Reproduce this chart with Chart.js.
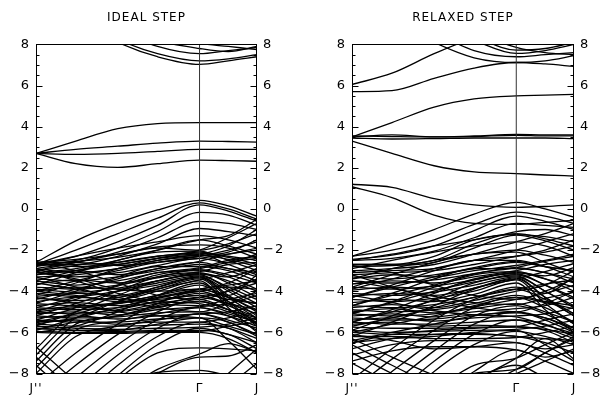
<!DOCTYPE html>
<html><head><meta charset="utf-8">
<script src="https://cdn.jsdelivr.net/npm/chart.js@4.4.1/dist/chart.umd.min.js"></script>
<style>
html,body{margin:0;padding:0;background:#fff;overflow:hidden;width:603px;height:396px}
#c1{position:absolute;left:0;top:0}
#c2{position:absolute;left:300px;top:0}
</style></head><body>
<canvas id="c1" width="300" height="396"></canvas>
<canvas id="c2" width="303" height="396"></canvas>
<script>
// ---- k-path and tick labels ----
const kPoints = [0, 0.18, 0.37, 0.55, 0.74, 0.87, 1];
const kTickValues = [0, 0.74, 1];
const kTickLabels = ["J''", "Γ", "J"];
const gammaK = 0.74;
const gammaLine = [-8, 8];
const energyTicks = [-8, -6, -4, -2, 0, 2, 4, 6, 8];
const energyRange = [-8, 8];
const minorTickStep = 0.5;
const panelTitles = ["IDEAL STEP", "RELAXED STEP"];

// ---- IDEAL STEP bands (eV at kPoints) ----
const idealConduction = [
  [2.7, 3.3, 3.9, 4.15, 4.2, 4.2, 4.2],
  [2.7, 2.9, 3.05, 3.2, 3.3, 3.28, 3.25],
  [2.7, 2.65, 2.7, 2.8, 2.9, 2.9, 2.9],
  [2.7, 2.2, 2.02, 2.2, 2.37, 2.35, 2.32],
  [10, 9.2, 8.1, 7.4, 7.03, 7.2, 7.4],
  [10.3, 9.4, 8.25, 7.55, 7.2, 7.3, 7.5],
  [10.6, 9.8, 8.7, 7.9, 7.55, 7.7, 7.85],
  [11, 10, 9, 8.2, 7.8, 7.65, 7.9],
  [11, 10.2, 9.3, 8.5, 8.05, 7.9, 7.75],
  [11, 10.5, 9.8, 8.8, 8.3, 8.1, 8.0]
];
const idealValenceTop = [
  [-2.6, -1.55, -0.7, -0.05, 0.42, 0.15, -0.35],
  [-2.7, -2.0, -1.2, -0.45, 0.3, 0.0, -0.5],
  [-2.75, -2.3, -1.6, -0.8, 0.2, -0.1, -0.6],
  [-2.8, -2.5, -1.9, -1.1, -0.17, -0.3, -0.8],
  [-2.9, -2.6, -2.1, -1.4, -0.6, -0.7, -1.0],
  [-3.0, -2.75, -2.3, -1.7, -0.95, -1.1, -1.3],
  [-2.65, -2.55, -2.35, -2.0, -1.5, -1.3, -0.5],
  [-2.7, -2.7, -2.6, -2.3, -2.0, -1.4, -0.7],
  [-3.2, -3.0, -2.7, -2.4, -2.2, -1.8, -1.0],
  [-3.3, -3.2, -2.9, -2.5, -2.3, -2.1, -1.5],
  [-3.1, -2.9, -2.5, -2.0, -1.5, -1.8, -2.2]
];
const idealValenceDense = [
  [-2.6, -2.45, -2.2, -1.9, -2.0, -1.7, -1.2],
  [-2.65, -2.8, -2.7, -2.4, -2.1, -2.3, -2.5],
  [-2.75, -2.6, -2.75, -2.6, -2.3, -2.0, -1.6],
  [-2.9, -3.1, -2.9, -2.5, -2.25, -2.45, -2.8],
  [-3.05, -3.3, -3.1, -2.75, -2.4, -2.6, -2.2],
  [-3.2, -3.0, -3.2, -2.9, -2.55, -2.2, -2.0],
  [-3.4, -3.5, -3.3, -3.0, -2.7, -2.9, -3.3],
  [-3.5, -3.7, -3.5, -3.1, -2.85, -2.5, -2.3],
  [-3.65, -3.45, -3.6, -3.3, -2.95, -3.2, -3.6],
  [-3.8, -3.9, -3.7, -3.35, -3.05, -2.7, -2.6],
  [-3.9, -4.05, -3.85, -3.5, -3.15, -3.5, -4.0],
  [-4.0, -3.8, -3.9, -3.6, -3.25, -3.8, -4.4],
  [-4.1, -4.25, -4.0, -3.7, -3.3, -4.0, -4.8],
  [-4.25, -4.1, -4.2, -3.8, -3.35, -4.3, -5.2],
  [-4.35, -4.45, -4.3, -3.9, -3.4, -4.5, -5.6],
  [-4.5, -4.3, -4.4, -4.0, -3.5, -4.8, -6.0],
  [-4.6, -4.7, -4.55, -4.2, -3.7, -4.2, -3.2],
  [-4.7, -4.55, -4.7, -4.35, -3.9, -3.6, -2.9],
  [-4.8, -4.9, -4.8, -4.5, -4.1, -4.4, -4.6],
  [-4.9, -4.75, -4.95, -4.6, -4.3, -4.0, -3.6],
  [-5.0, -5.1, -5.0, -4.75, -4.5, -4.9, -5.4],
  [-5.1, -5.0, -5.15, -4.9, -4.75, -4.6, -4.2],
  [-5.2, -5.3, -5.25, -5.05, -5.0, -5.2, -5.7],
  [-5.3, -5.2, -5.35, -5.2, -5.1, -5.0, -4.7],
  [-5.4, -5.5, -5.5, -5.35, -5.3, -5.5, -6.2],
  [-5.5, -5.4, -5.6, -5.5, -5.5, -5.3, -5.0],
  [-5.6, -5.7, -5.7, -5.65, -5.6, -5.8, -6.5],
  [-5.7, -5.8, -5.85, -5.8, -5.75, -5.6, -5.3],
  [-5.8, -5.9, -5.95, -5.9, -5.9, -6.1, -6.8],
  [-5.95, -6.0, -6.0, -5.95, -5.95, -5.7, -5.5],
  [-6.0, -6.05, -6.05, -6.0, -6.0, -6.3, -7.0],
  [-5.8, -5.9, -5.9, -5.6, -5.3, -6.4, -7.8],
  [-5.9, -5.3, -4.5, -3.8, -3.3, -4.2, -5.0],
  [-5.7, -5.0, -4.2, -3.5, -3.2, -3.9, -4.6],
  [-5.4, -4.8, -4.0, -3.3, -3.1, -3.6, -4.3],
  [-5.0, -4.4, -3.7, -3.1, -3.0, -3.3, -3.9],
  [-4.6, -4.0, -3.3, -2.8, -2.8, -3.0, -3.5],
  [-4.2, -3.6, -2.9, -2.4, -2.2, -2.7, -3.2],
  [-3.7, -3.1, -2.5, -2.1, -2.05, -2.5, -3.0],
  [-6.0, -5.7, -5.0, -4.2, -3.6, -4.6, -5.7],
  [-2.6, -3.0, -3.6, -4.2, -4.4, -4.0, -3.4],
  [-3.3, -3.8, -4.4, -4.8, -5.0, -4.6, -4.0],
  [-2.9, -3.5, -4.1, -4.5, -4.6, -5.0, -5.5]
];
const idealValenceExtra = [
  [-2.7, -2.3, -1.9, -1.6, -1.3, -1.5, -1.9],
  [-3.0, -2.6, -2.2, -1.85, -1.75, -1.9, -2.4],
  [-3.5, -3.0, -2.6, -2.3, -2.15, -2.35, -2.7],
  [-4.0, -3.5, -3.0, -2.6, -2.4, -2.2, -1.9],
  [-4.4, -3.9, -3.4, -2.9, -2.6, -2.9, -3.1],
  [-4.8, -4.3, -3.75, -3.2, -2.9, -2.6, -2.4],
  [-5.2, -4.6, -4.0, -3.5, -3.15, -3.3, -2.9],
  [-5.5, -5.1, -4.5, -3.9, -3.45, -3.1, -2.7],
  [-5.6, -5.3, -4.8, -4.3, -3.9, -3.7, -3.5],
  [-5.85, -5.5, -5.2, -4.7, -4.3, -4.6, -4.9],
  [-3.6, -3.9, -4.3, -4.6, -4.7, -4.4, -4.1],
  [-4.3, -4.6, -5.0, -5.2, -5.3, -5.7, -6.1],
  [-3.1, -3.4, -3.9, -4.0, -3.9, -4.3, -4.6],
  [-4.0, -4.2, -4.5, -4.4, -4.2, -4.7, -5.3],
  [-5.0, -4.8, -4.6, -4.3, -4.0, -3.8, -3.9]
];
const idealValenceLow = [
  [-6.8, -5.0, -4.6, -4.2, -3.9, -4.3, -4.9],
  [-7.1, -5.3, -4.9, -4.5, -4.2, -4.6, -5.1],
  [-7.4, -5.6, -5.2, -4.8, -4.5, -4.9, -5.3],
  [-7.7, -5.9, -5.45, -5.1, -4.8, -5.1, -5.5],
  [-8.0, -6.2, -5.7, -5.4, -5.1, -5.4, -5.8],
  [-8.6, -7.0, -5.6, -4.6, -4.0, -4.5, -5.3],
  [-9.2, -7.6, -6.1, -5.0, -4.4, -4.9, -5.6],
  [-9.8, -8.2, -6.6, -5.4, -4.8, -5.2, -5.9],
  [-10.4, -8.8, -7.1, -5.8, -5.1, -5.5, -6.1],
  [-11, -9.4, -7.6, -6.2, -5.5, -5.8, -6.3],
  [-11.6, -10, -8.1, -6.6, -5.8, -6.1, -6.5],
  [-6.7, -8.4, -10, -11, -12, -12, -12],
  [-7.2, -8.9, -10.5, -11, -12, -12, -12],
  [-7.6, -9.3, -11, -12, -12, -12, -12],
  [-11, -10, -8.3, -7.0, -6.75, -6.8, -6.9],
  [-11, -10.5, -8.9, -7.95, -7.85, -8.1, -8.4],
  [-11, -10, -9, -7.8, -7.05, -6.55, -6.95],
  [-11, -10, -9.2, -8.0, -7.2, -7.15, -6.6],
  [-13, -12, -11, -10, -9.3, -8.0, -6.8],
  [-13, -12, -11, -10.5, -9.8, -8.6, -7.5]
];

// ---- RELAXED STEP bands (eV at kPoints) ----
const relaxedConduction = [
  [6.05, 6.6, 7.55, 8.3, 8.7, 8.5, 8.3],
  [5.7, 5.75, 6.35, 6.85, 7.12, 7.05, 6.93],
  [3.5, 4.2, 4.95, 5.35, 5.5, 5.53, 5.57],
  [3.55, 3.52, 3.5, 3.55, 3.62, 3.6, 3.6],
  [3.45, 3.4, 3.42, 3.45, 3.45, 3.45, 3.42],
  [3.5, 3.6, 3.5, 3.52, 3.58, 3.55, 3.55],
  [3.3, 2.7, 2.1, 1.8, 1.72, 1.65, 1.6],
  [1.2, 1.05, 0.5, 0.2, 0.08, 0.12, 0.2],
  [1.08, 0.55, -0.3, -0.7, -0.75, -0.65, -0.55],
  [10, 9.2, 8.1, 7.35, 7.12, 7.2, 7.45],
  [10.5, 9.6, 8.6, 7.7, 7.4, 7.5, 7.6],
  [11, 10, 9, 8.2, 7.56, 7.7, 8.0],
  [11, 10, 9.2, 8.4, 7.72, 7.8, 8.1],
  [11, 10.3, 9.4, 8.6, 7.85, 7.6, 7.5]
];
const relaxedValenceTop = [
  [-2.3, -1.7, -1.0, -0.25, 0.32, 0.0, -0.4],
  [-2.3, -2.0, -1.5, -0.75, -0.15, -0.35, -0.7],
  [-2.45, -2.25, -1.8, -1.05, -0.35, -0.6, -1.0],
  [-2.5, -2.4, -2.05, -1.4, -0.7, -0.8, -0.9],
  [-2.7, -2.7, -2.5, -1.7, -1.1, -1.0, -1.3],
  [-2.7, -2.7, -2.3, -1.5, -1.25, -1.35, -1.6],
  [-2.8, -2.75, -2.6, -1.9, -1.27, -1.55, -2.0],
  [-3.0, -2.9, -2.7, -2.2, -1.6, -1.2, -0.7],
  [-3.1, -3.0, -2.9, -2.5, -2.0, -1.6, -1.2],
  [-3.2, -3.1, -3.0, -2.7, -2.3, -2.0, -1.5]
];
const relaxedValenceDense = [
  [-3.3, -3.4, -3.2, -2.9, -2.6, -2.8, -3.0],
  [-3.4, -3.2, -3.3, -3.0, -2.75, -2.5, -2.2],
  [-3.5, -3.6, -3.45, -3.15, -2.85, -3.1, -3.4],
  [-3.65, -3.5, -3.6, -3.3, -3.0, -2.7, -2.5],
  [-3.8, -3.9, -3.75, -3.45, -3.1, -3.4, -3.8],
  [-3.95, -3.8, -3.9, -3.55, -3.2, -3.7, -4.3],
  [-4.1, -4.2, -4.05, -3.7, -3.3, -4.0, -4.8],
  [-4.25, -4.1, -4.2, -3.85, -3.35, -4.3, -5.2],
  [-4.4, -4.5, -4.35, -4.0, -3.45, -4.6, -5.6],
  [-4.55, -4.4, -4.5, -4.15, -3.6, -4.9, -6.0],
  [-4.7, -4.8, -4.65, -4.3, -3.8, -4.1, -3.3],
  [-4.8, -4.65, -4.8, -4.45, -4.0, -3.7, -3.0],
  [-4.9, -5.0, -4.9, -4.6, -4.2, -4.5, -4.7],
  [-5.0, -4.85, -5.05, -4.75, -4.4, -4.1, -3.7],
  [-5.1, -5.2, -5.1, -4.85, -4.6, -5.0, -5.5],
  [-5.2, -5.1, -5.25, -5.0, -4.85, -4.7, -4.3],
  [-5.3, -5.4, -5.35, -5.15, -5.05, -5.3, -5.8],
  [-5.4, -5.3, -5.45, -5.3, -5.2, -5.1, -4.8],
  [-5.5, -5.6, -5.6, -5.5, -5.4, -5.6, -6.2],
  [-5.6, -5.5, -5.7, -5.65, -5.7, -5.4, -5.1],
  [-5.75, -5.8, -5.8, -5.75, -5.72, -5.9, -6.5],
  [-5.9, -6.0, -5.95, -5.9, -5.85, -5.7, -5.4],
  [-6.0, -6.1, -6.1, -6.1, -6.2, -6.5, -7.0],
  [-6.2, -6.2, -6.3, -6.3, -6.25, -6.0, -5.7],
  [-6.2, -5.5, -4.7, -3.9, -3.4, -4.3, -5.1],
  [-5.9, -5.2, -4.4, -3.6, -3.25, -4.0, -4.7],
  [-5.5, -4.9, -4.1, -3.4, -3.15, -3.7, -4.4],
  [-5.1, -4.5, -3.8, -3.2, -3.05, -3.4, -4.0],
  [-4.7, -4.1, -3.4, -2.9, -2.9, -3.1, -3.6],
  [-4.3, -3.7, -3.0, -2.5, -2.5, -2.8, -3.3],
  [-3.8, -3.2, -2.6, -2.2, -2.1, -2.6, -3.1],
  [-2.75, -3.1, -3.7, -4.2, -4.4, -4.0, -3.4],
  [-3.2, -3.8, -4.4, -4.8, -5.0, -4.6, -4.0]
];
const relaxedValenceExtra = [
  [-2.5, -2.2, -1.8, -1.5, -1.2, -1.45, -1.8],
  [-2.9, -2.5, -2.1, -1.8, -1.6, -1.8, -2.3],
  [-3.4, -2.9, -2.5, -2.2, -2.0, -2.25, -2.6],
  [-3.9, -3.4, -2.9, -2.5, -2.3, -2.1, -1.8],
  [-4.3, -3.8, -3.3, -2.85, -2.55, -2.8, -3.0],
  [-4.7, -4.2, -3.7, -3.15, -2.85, -2.55, -2.3],
  [-5.1, -4.55, -4.0, -3.45, -3.1, -3.25, -2.85],
  [-5.5, -5.0, -4.45, -3.85, -3.4, -3.05, -2.65],
  [-5.7, -5.3, -4.8, -4.3, -3.9, -3.65, -3.45],
  [-6.0, -5.6, -5.2, -4.7, -4.3, -4.55, -4.85],
  [-3.5, -3.85, -4.25, -4.55, -4.65, -4.35, -4.05],
  [-4.2, -4.55, -4.95, -5.15, -5.25, -5.65, -6.05],
  [-6.4, -6.0, -5.6, -5.2, -5.0, -5.3, -5.9],
  [-6.5, -6.3, -6.2, -6.0, -5.9, -6.6, -7.4],
  [-6.1, -6.4, -6.8, -6.7, -6.5, -7.0, -7.6]
];
const relaxedValenceLow = [
  [-8.3, -6.8, -5.4, -4.4, -3.9, -4.4, -5.2],
  [-8.8, -7.3, -5.9, -4.8, -4.3, -4.8, -5.5],
  [-9.4, -7.9, -6.4, -5.2, -4.7, -5.1, -5.8],
  [-10, -8.5, -6.9, -5.6, -5.0, -5.4, -6.0],
  [-10.6, -9.1, -7.4, -6.1, -5.4, -5.8, -6.3],
  [-11.3, -9.7, -7.9, -6.6, -5.95, -6.2, -6.6],
  [-6.5, -6.1, -5.9, -5.8, -5.75, -5.85, -6.1],
  [-6.8, -6.3, -6.1, -6.05, -6.2, -6.3, -6.4],
  [-7.1, -6.6, -6.4, -6.4, -6.5, -6.8, -6.6],
  [-7.4, -6.9, -6.7, -6.7, -6.85, -7.2, -6.9],
  [-6.6, -7.6, -8.6, -9.5, -10, -10, -10],
  [-7.0, -8.0, -9.0, -10, -10, -10, -10],
  [-7.5, -8.5, -9.5, -10, -10, -10, -10],
  [-6.3, -7.2, -8.1, -9, -10, -10, -10],
  [-11, -10, -8.8, -7.6, -7.25, -6.6, -6.0],
  [-11, -10.5, -9.3, -8.0, -7.8, -7.0, -6.3],
  [-11, -11, -10, -8.6, -8.0, -7.4, -6.8],
  [-10, -10, -9.2, -7.9, -6.85, -7.4, -8.0],
  [-10, -10, -9.5, -8.3, -7.6, -8.2, -8.8],
  [-12, -11, -10, -8.4, -7.25, -6.3, -7.3],
  [-12, -11, -10, -8.8, -7.8, -7.0, -6.2]
];

// ---- drawing ----
const FONT = "'DejaVu Sans', 'Liberation Sans', sans-serif";
const fmtEnergy = v => (v < 0 ? '\u2212' + Math.abs(v) : String(v));

const frameTicks = {
  id: 'frameTicks',
  beforeDraw(chart) { chart.ctx.letterSpacing = '1px'; },
  afterDraw(chart) {
    const { ctx, chartArea: a } = chart;
    const y = chart.scales.y;
    ctx.save();
    ctx.letterSpacing = '0px';
    ctx.strokeStyle = '#000';
    ctx.lineWidth = 1;
    const L = Math.round(a.left) + 0.5, R = Math.round(a.right) - 0.5;
    const T = Math.round(a.top) + 0.5, B = Math.round(a.bottom) - 0.5;
    ctx.strokeRect(L, T, R - L, B - T);
    ctx.beginPath();
    for (let v = energyRange[0]; v <= energyRange[1] + 1e-9; v += minorTickStep) {
      const p = Math.round(y.getPixelForValue(v)) + 0.5;
      const len = (Math.abs(v % 2) < 1e-9) ? 6 : 3;
      ctx.moveTo(L, p); ctx.lineTo(L + len, p);
      ctx.moveTo(R, p); ctx.lineTo(R - len, p);
    }
    ctx.stroke();
    ctx.restore();
  }
};

function bandDatasets(groups) {
  const out = [{
    data: gammaLine.map(e => ({ x: gammaK, y: e })),
    borderColor: '#333', borderWidth: 1, pointRadius: 0, tension: 0
  }];
  groups.forEach(g => g.forEach(band => {
    out.push({
      data: kPoints.map((k, i) => ({ x: k, y: band[i] })),
      borderColor: '#000', borderWidth: 1.3, pointRadius: 0,
      cubicInterpolationMode: 'monotone', fill: false
    });
  }));
  return out;
}

function makePanel(id, title, groups, leftW, rightW) {
  const yCommon = {
    type: 'linear', min: energyRange[0], max: energyRange[1],
    grid: { display: false, drawTicks: false }, border: { display: false },
    afterBuildTicks: s => { s.ticks = energyTicks.map(v => ({ value: v })); },
    ticks: { callback: fmtEnergy, padding: 6, color: '#000', font: { family: FONT, size: 13 } }
  };
  new Chart(document.getElementById(id), {
    type: 'line',
    data: { datasets: bandDatasets(groups) },
    options: {
      responsive: false, animation: false, devicePixelRatio: 1, events: [],
      layout: { padding: 0 },
      plugins: {
        legend: { display: false }, tooltip: { enabled: false },
        title: {
          display: true, text: title, fullSize: false, color: '#000',
          font: { family: FONT, size: 12, weight: 'normal' },
          padding: { top: 11, bottom: 19 }
        }
      },
      scales: {
        x: {
          type: 'linear', min: 0, max: 1,
          grid: { display: false, drawTicks: false }, border: { display: false },
          afterBuildTicks: s => { s.ticks = kTickValues.map(v => ({ value: v })); },
          afterFit: s => { s.height = 22.5; },
          ticks: {
            callback: (v, i) => kTickLabels[i], autoSkip: false, maxRotation: 0,
            padding: 8, color: '#000', font: { family: FONT, size: 12 }
          }
        },
        y: Object.assign({}, yCommon, { position: 'left', afterFit: s => { s.width = leftW; } }),
        y2: Object.assign({}, yCommon, { position: 'right', afterFit: s => { s.width = rightW; } })
      }
    },
    plugins: [frameTicks]
  });
}

makePanel('c1', panelTitles[0], [idealConduction, idealValenceTop, idealValenceDense, idealValenceExtra, idealValenceLow], 36, 43);
makePanel('c2', panelTitles[1], [relaxedConduction, relaxedValenceTop, relaxedValenceDense, relaxedValenceExtra, relaxedValenceLow], 52, 29);
</script>
</body></html>
